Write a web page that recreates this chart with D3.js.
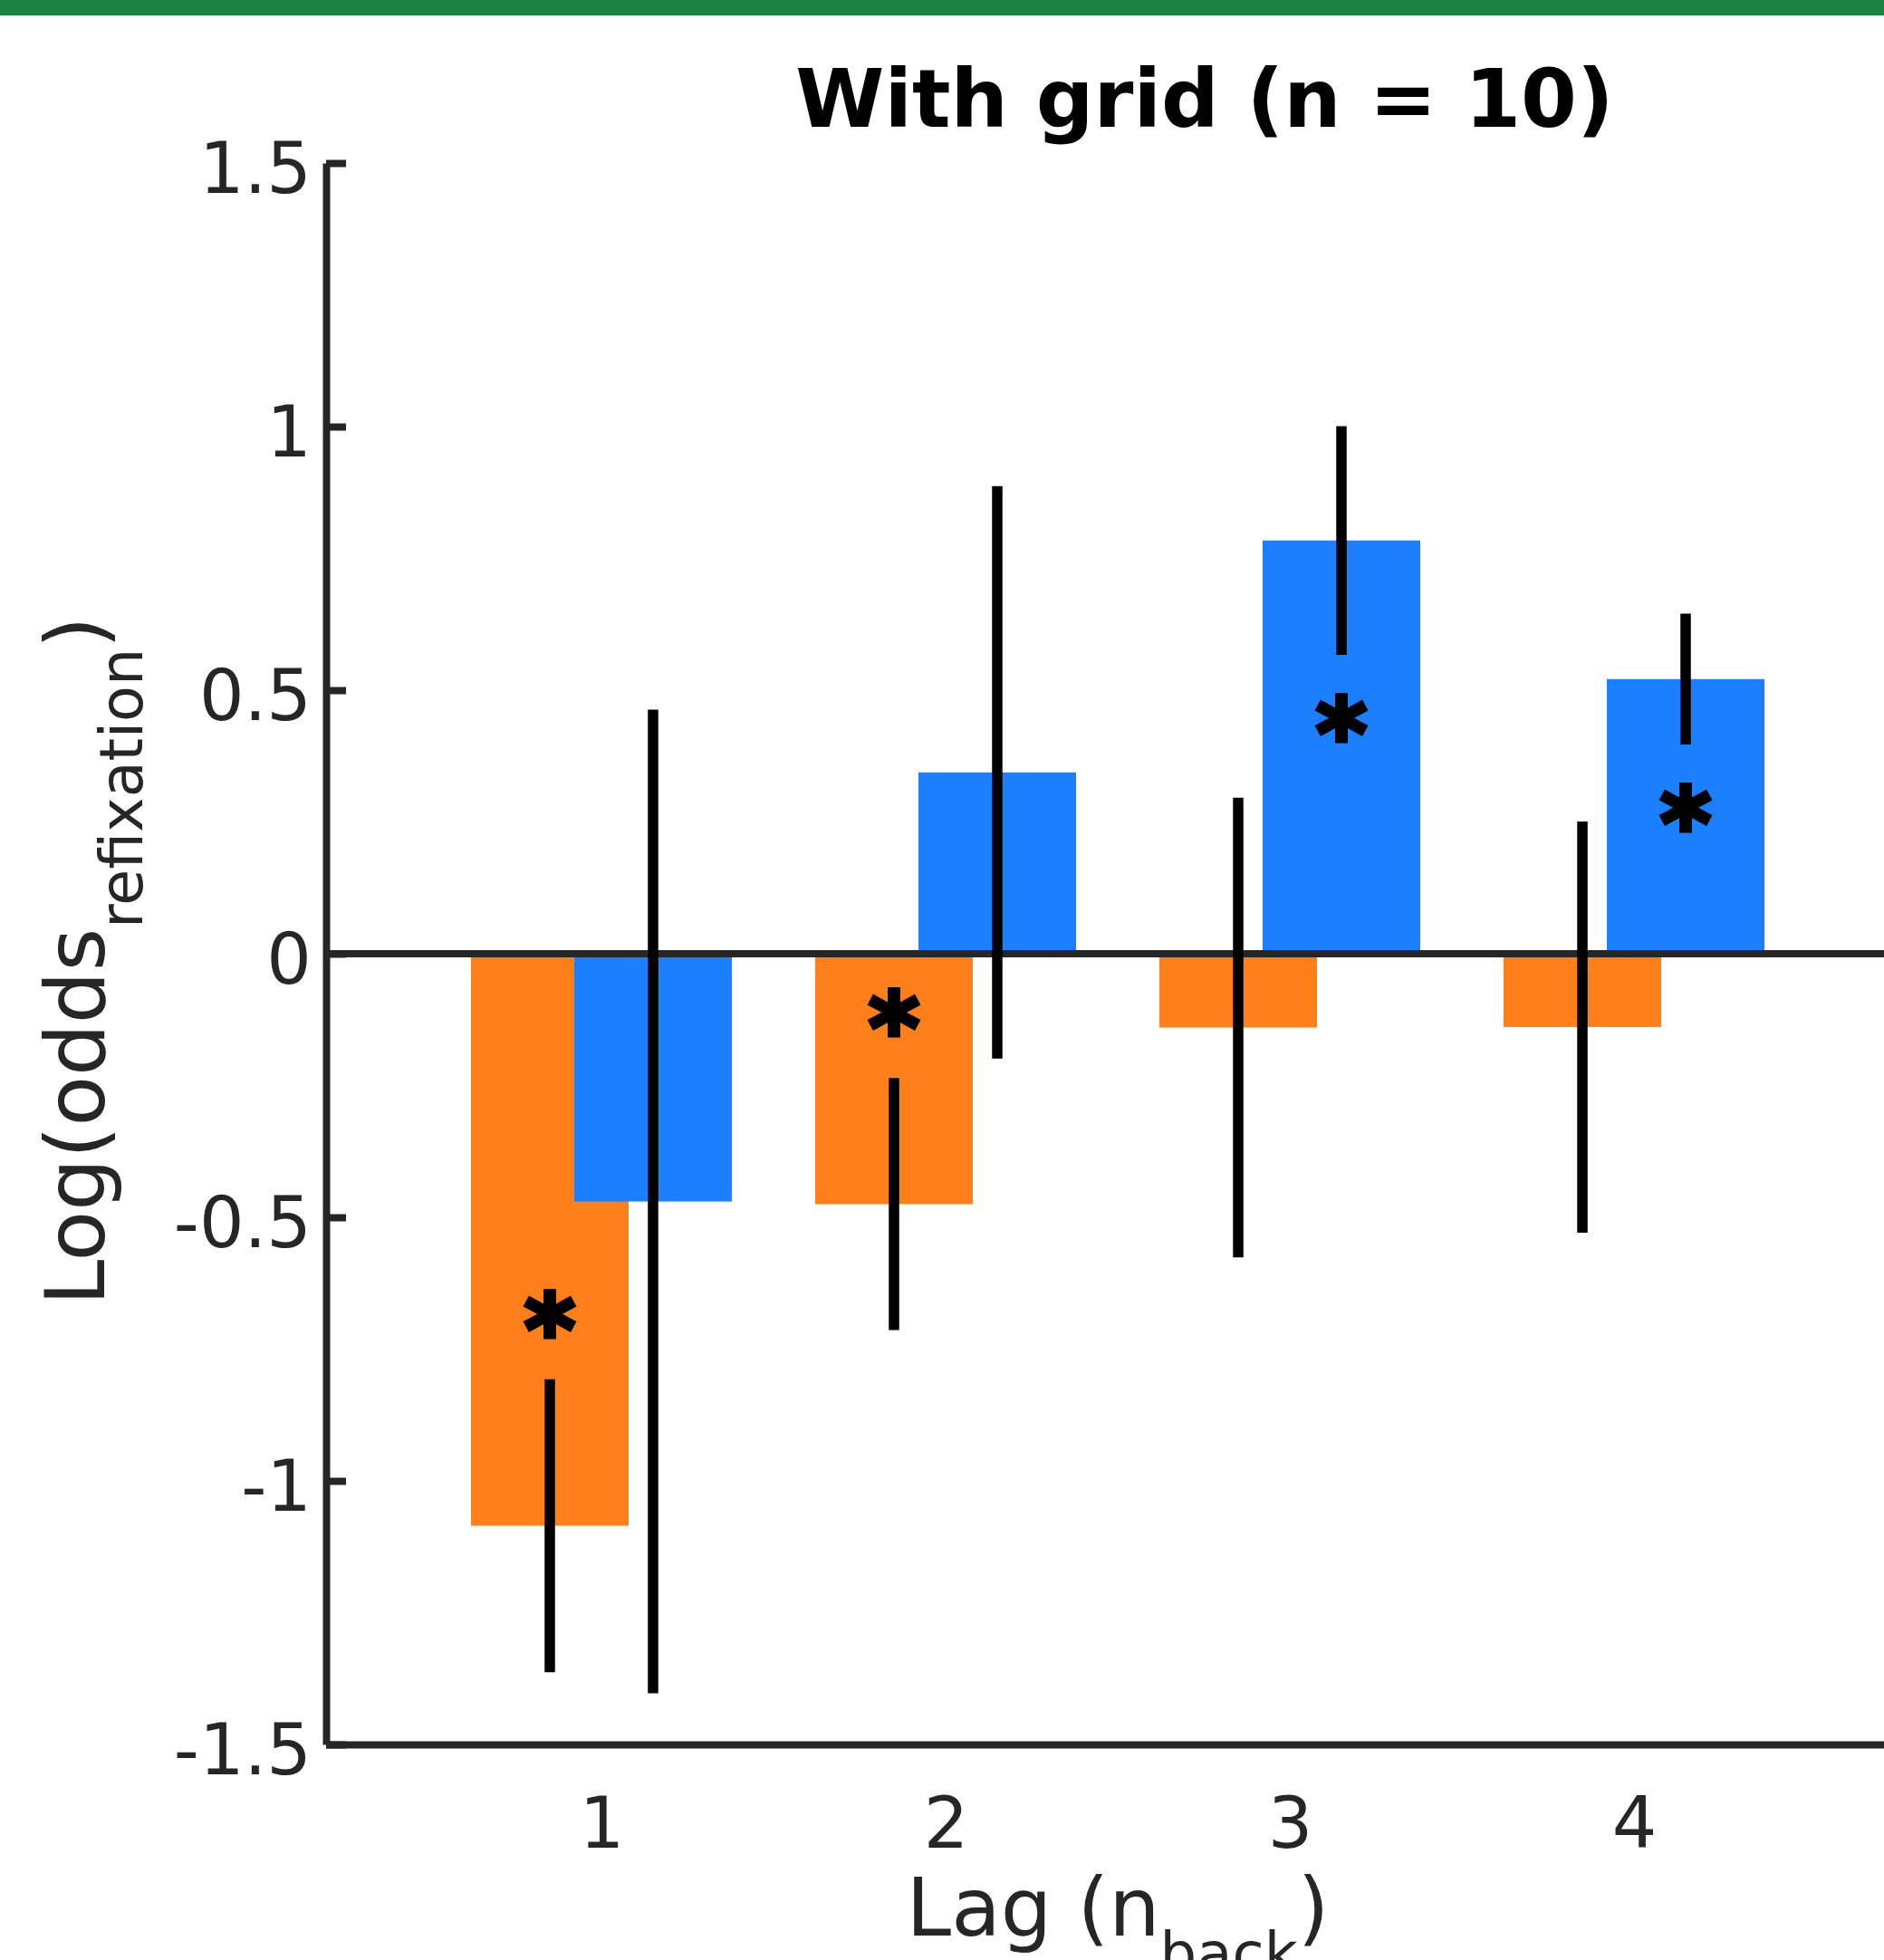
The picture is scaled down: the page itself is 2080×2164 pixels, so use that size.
<!DOCTYPE html>
<html>
<head>
<meta charset="utf-8">
<script src="https://cdn.jsdelivr.net/npm/d3@7"></script>
<style>
body { margin: 0; background: #fff; }
svg { display: block; font-family: "DejaVu Sans", sans-serif; }
</style>
</head>
<body>
<div id="chart"></div>
<script>
// lag values on the x axis
var lags = [1, 2, 3, 4];
var lagLabels = ["1", "2", "3", "4"];
// orange series : mean log odds, error half length, significance star
var orangeValues = [-1.085, -0.475, -0.140, -0.139];
var orangeErrors = [0.278, 0.239, 0.436, 0.390];
var orangeSig = [true, true, false, false];
// blue series
var blueValues = [-0.470, 0.344, 0.784, 0.521];
var blueErrors = [0.933, 0.543, 0.217, 0.124];
var blueSig = [false, false, true, true];
// y ticks
var yTicks = [-1.5, -1, -0.5, 0, 0.5, 1, 1.5];
var yTickLabels = ["-1.5", "-1", "-0.5", "0", "0.5", "1", "1.5"];

var w = 2080, h = 2164;
var ink = "#262626";

var svg = d3.select("#chart").append("svg")
    .attr("width", w)
    .attr("height", h);

// green strip on top
svg.append("rect")
    .attr("x", 0).attr("y", 0)
    .attr("width", w).attr("height", 17)
    .attr("fill", "#1c8241");

var x = d3.scaleLinear().domain([0.2, 4.2]).range([360, 1880]);
var y = d3.scaleLinear().domain([-1.5, 1.5]).range([1926, 180]);
// scale used only for the lines that run off the right edge
var xLong = d3.scaleLinear().domain([0.2, 5]).range([x(0.2), x(5)]);

var barW = 0.458, shift = 0.15, starGap = 0.122;

// build one row per bar
function series(values, errors, sig, color, off) {
    return lags.map(function (lag, i) {
        return { lag: lag, v: values[i], e: errors[i], sig: sig[i], color: color, off: off };
    });
}
var rows = series(orangeValues, orangeErrors, orangeSig, "#ff7f1b", -shift)
    .concat(series(blueValues, blueErrors, blueSig, "#1b7fff", shift));

// bars
svg.selectAll(".bar")
    .data(rows)
    .enter().append("rect")
    .attr("class", "bar")
    .attr("x", function (d) { return x(d.lag + d.off - barW / 2); })
    .attr("width", x(barW) - x(0))
    .attr("y", function (d) { return y(Math.max(d.v, 0)); })
    .attr("height", function (d) { return Math.abs(y(d.v) - y(0)); })
    .attr("fill", function (d) { return d.color; });

// zero line
svg.append("line")
    .attr("x1", xLong(0.2)).attr("x2", xLong(5))
    .attr("y1", y(0)).attr("y2", y(0))
    .attr("stroke", ink).attr("stroke-width", 8);

// error bars
svg.selectAll(".err")
    .data(rows)
    .enter().append("line")
    .attr("class", "err")
    .attr("x1", function (d) { return x(d.lag + d.off); })
    .attr("x2", function (d) { return x(d.lag + d.off); })
    .attr("y1", function (d) { return y(d.v - d.e); })
    .attr("y2", function (d) { return y(d.v + d.e); })
    .attr("stroke", "#000").attr("stroke-width", 11.5);

// stars beyond the error bar end nearest zero
var starSize = 108;
svg.selectAll(".star")
    .data(rows.filter(function (d) { return d.sig; }))
    .enter().append("text")
    .attr("class", "star")
    .attr("x", function (d) { return x(d.lag + d.off); })
    .attr("y", function (d) {
        var s = d.v < 0 ? -1 : 1;
        return y(d.v - s * (d.e + starGap)) + 0.5 * starSize;
    })
    .attr("text-anchor", "middle")
    .attr("fill", "#000")
    .attr("stroke", "#000")
    .attr("stroke-width", 5)
    .style("font-size", starSize + "px")
    .style("font-weight", "bold")
    .text("*");

// y axis
var yAxis = svg.append("g")
    .attr("transform", "translate(" + x(0.2) + ",0)")
    .call(d3.axisLeft(y).tickValues(yTicks)
        .tickFormat(function (d, i) { return yTickLabels[i]; })
        .tickSizeInner(-22).tickSizeOuter(0).tickPadding(16));
yAxis.select(".domain").attr("stroke", ink).attr("stroke-width", 8);
yAxis.selectAll(".tick line").attr("stroke", ink).attr("stroke-width", 8);
yAxis.selectAll(".tick text")
    .attr("fill", ink).attr("dy", "0.42em")
    .style("font-size", "78px").style("font-family", "DejaVu Sans");

// x axis
var xAxis = svg.append("g")
    .attr("transform", "translate(0," + y(-1.5) + ")")
    .call(d3.axisBottom(xLong).tickValues(lags)
        .tickFormat(function (d, i) { return lagLabels[i]; })
        .tickSize(0).tickPadding(59));
xAxis.select(".domain").attr("stroke", ink).attr("stroke-width", 8);
xAxis.selectAll(".tick text")
    .attr("fill", ink)
    .style("font-size", "78px").style("font-family", "DejaVu Sans");

// title
svg.append("text")
    .attr("x", 1330).attr("y", 140)
    .attr("text-anchor", "middle")
    .style("font-size", "89px").style("font-weight", "bold")
    .attr("fill", "#000")
    .text("With grid (n = 10)");

// x label
var xl = svg.append("text")
    .attr("x", 1234).attr("y", 2137)
    .attr("text-anchor", "middle")
    .attr("fill", ink)
    .style("font-size", "89px");
xl.append("tspan").text("Lag (n");
xl.append("tspan").attr("dy", 42).style("font-size", "64px").text("back");
xl.append("tspan").attr("dy", -42).text(")");

// y label
var yl = svg.append("text")
    .attr("transform", "translate(115," + (y(0) + 8) + ") rotate(-90)")
    .attr("text-anchor", "middle")
    .attr("fill", ink)
    .style("font-size", "91px");
yl.append("tspan").text("Log(odds");
yl.append("tspan").attr("dy", 42).style("font-size", "65px").text("refixation");
yl.append("tspan").attr("dy", -42).text(")");
</script>
</body>
</html>
